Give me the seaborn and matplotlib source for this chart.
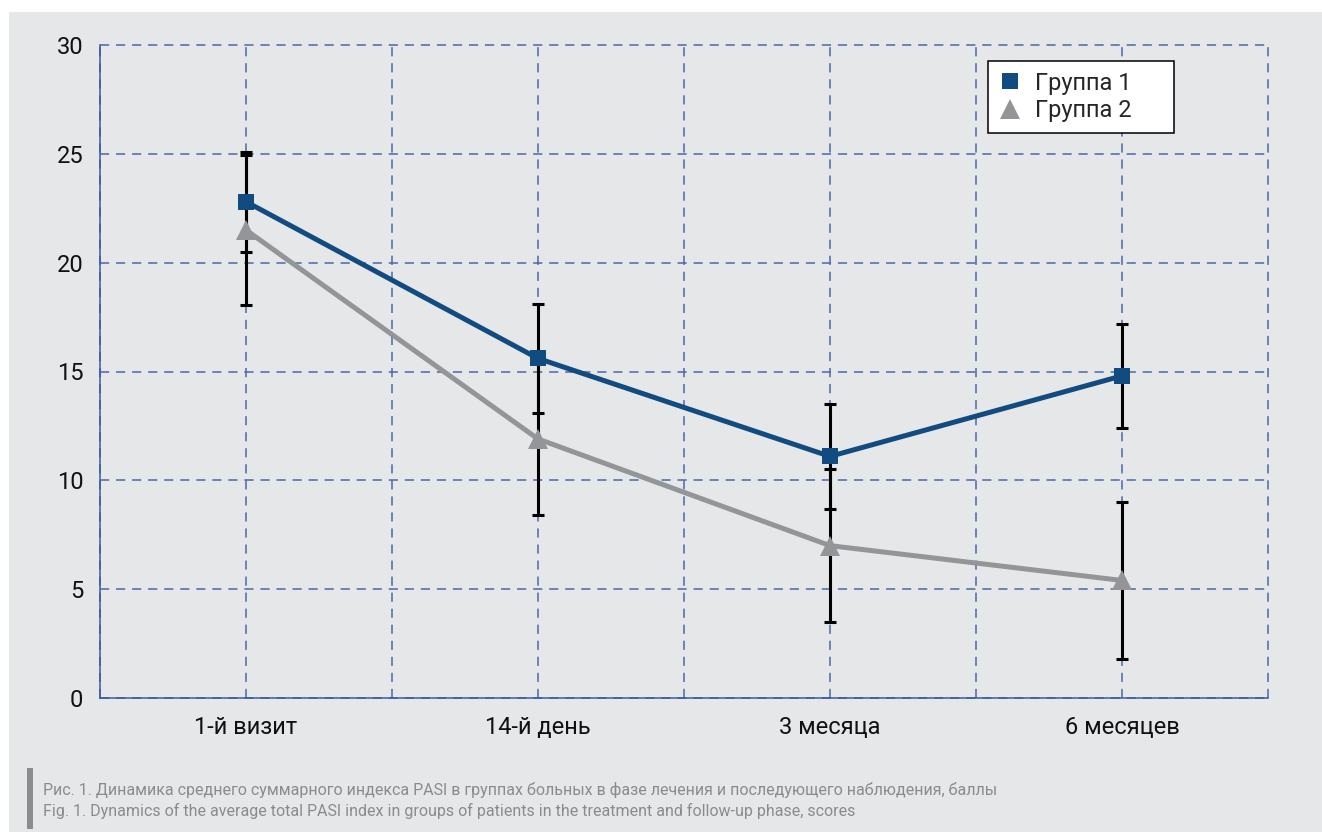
import numpy as np
import pandas as pd
import matplotlib
matplotlib.use("Agg")
import matplotlib.pyplot as plt
from matplotlib.lines import Line2D
from matplotlib.patches import Rectangle
from matplotlib import font_manager
import seaborn as sns

# Visits and mean PASI (± SD) for the two groups
visits = ["1-й визит", "14-й день", "3 месяца", "6 месяцев"]
group1_mean = [22.8, 15.6, 11.1, 14.8]
group1_sd = [2.3, 2.5, 2.4, 2.4]
group2_mean = [21.5, 11.9, 7.0, 5.4]
group2_sd = [3.45, 3.5, 3.5, 3.6]
series_names = ["Группа 1", "Группа 2"]
y_ticks = [0, 5, 10, 15, 20, 25, 30]

caption_ru = ("Рис. 1. Динамика среднего суммарного индекса PASI в группах больных "
              "в фазе лечения и последующего наблюдения, баллы")
caption_en = ("Fig. 1. Dynamics of the average total PASI index in groups of patients "
              "in the treatment and follow-up phase, scores")

BLUE = "#114b80"
GRAY = "#939598"
PANEL = "#e6e7e9"
GRID = "#4a68a6"

sns.set_theme(style="white")
installed = {f.name for f in font_manager.fontManager.ttflist}
families = [f for f in ["Liberation Sans Narrow", "Roboto", "DejaVu Sans"] if f in installed]
plt.rcParams["font.family"] = families

W, H = 1322, 832
fig = plt.figure(figsize=(W / 100, H / 100), dpi=100, facecolor="white")

# Gray panel behind the whole chart
fig.patches.append(Rectangle((9 / W, 0), 1 - 9 / W, 1 - 12 / H,
                             transform=fig.transFigure, facecolor=PANEL,
                             edgecolor="none", zorder=-5))

ax = fig.add_axes([100 / W, (H - 698) / H, (1268 - 100) / W, (698 - 45) / H])
ax.set_facecolor(PANEL)

df = pd.DataFrame({
    "visit": list(range(len(visits))) * 2,
    "pasi": group1_mean + group2_mean,
    "sd": group1_sd + group2_sd,
    "group": [series_names[0]] * len(visits) + [series_names[1]] * len(visits),
})

# Error bars (drawn underneath lines and markers)
for name in series_names:
    sub = df[df["group"] == name]
    ax.errorbar(sub["visit"], sub["pasi"], yerr=sub["sd"], fmt="none",
                ecolor="black", elinewidth=2.2, capsize=4.5, capthick=2.2, zorder=2)

sns.lineplot(data=df[df["group"] == series_names[1]], x="visit", y="pasi",
             color=GRAY, linewidth=3.6, marker="^", markersize=14,
             markeredgewidth=0, ax=ax, zorder=3, legend=False)
sns.lineplot(data=df[df["group"] == series_names[0]], x="visit", y="pasi",
             color=BLUE, linewidth=3.6, marker="s", markersize=11.5,
             markeredgewidth=0, ax=ax, zorder=4, legend=False)

ax.set_xlim(-0.5, len(visits) - 0.5)
ax.set_ylim(0, 30)
ax.set_xticks(range(len(visits)))
ax.set_xticklabels(visits)
ax.set_yticks(y_ticks)
ax.set_yticklabels([str(v) for v in y_ticks])
ax.set_xlabel("")
ax.set_ylabel("")
ax.tick_params(axis="both", which="both", length=0, labelsize=17, colors="#111111")
ax.tick_params(axis="x", pad=13)
ax.tick_params(axis="y", pad=12)

# Dashed grid
ax.grid(False)
for v in np.arange(-0.5, len(visits), 0.5):
    ax.axvline(v, color=GRID, linewidth=1.1, dashes=(6, 4.5), zorder=1, clip_on=False)
for v in y_ticks:
    ax.axhline(v, color=GRID, linewidth=1.1, dashes=(6, 4.5), zorder=1, clip_on=False)

for side in ["top", "right"]:
    ax.spines[side].set_visible(False)
for side in ["left", "bottom"]:
    ax.spines[side].set_color("#3b5c99")
    ax.spines[side].set_linewidth(1.1)
    ax.spines[side].set_zorder(5)

handles = [
    Line2D([], [], linestyle="none", marker="s", markersize=11.5, color=BLUE,
           markeredgewidth=0),
    Line2D([], [], linestyle="none", marker="^", markersize=14, color=GRAY,
           markeredgewidth=0),
]
leg_x0 = (988 - 100) / (1268 - 100)
leg_w = (1174 - 988) / (1268 - 100)
leg_top = (698 - 61) / (698 - 45)
leg = ax.legend(handles, series_names, loc="upper left", mode="expand",
                bbox_to_anchor=(leg_x0, leg_top - 0.2, leg_w, 0.2), fontsize=17,
                frameon=True, fancybox=False, framealpha=1, edgecolor="black",
                handlelength=1.0, handletextpad=0.55, labelspacing=0.2,
                borderpad=0.45, borderaxespad=0)
leg.get_frame().set_linewidth(1.1)
leg.set_zorder(6)

# Caption
fig.patches.append(Rectangle((27 / W, (H - 829) / H), 6 / W, 61 / H,
                             transform=fig.transFigure, facecolor="#8c8c8c",
                             edgecolor="none", zorder=1))
fig.text(43 / W, 1 - 790 / H, caption_ru, fontsize=11.5, color="#8a8b8d",
         va="center", ha="left")
fig.text(43 / W, 1 - 811 / H, caption_en, fontsize=11.5, color="#8a8b8d",
         va="center", ha="left")

fig.savefig("out.png", dpi=100, facecolor="white")
